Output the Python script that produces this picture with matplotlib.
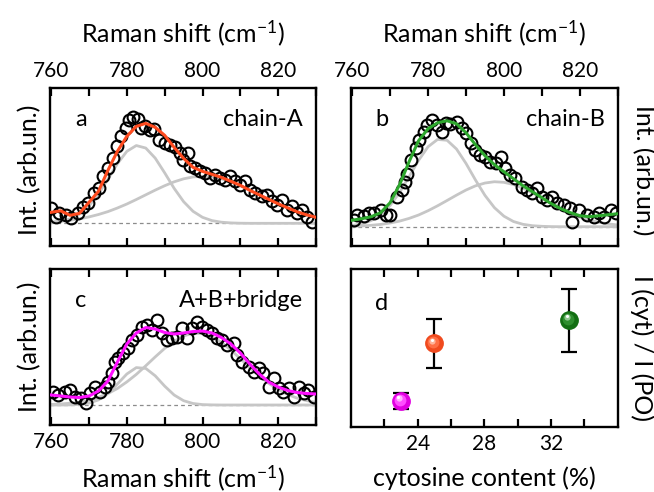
import matplotlib.pyplot as plt
import matplotlib.transforms as mtransforms
from matplotlib.ticker import MultipleLocator, FixedLocator
import numpy as np

plt.rcParams['font.family'] = ['Lato', 'DejaVu Sans']
plt.rcParams['mathtext.fontset'] = 'custom'
plt.rcParams['mathtext.rm'] = 'Lato'
plt.rcParams['mathtext.it'] = 'Lato'

# Raman shift grid for fit curves and components (cm-1)
shift = np.arange(760, 832.5, 2.5)

# panel a: chain-A
a_fit = [0.11, 0.125, 0.08, 0.10, 0.21, 0.32, 0.53, 0.72, 0.87, 0.97, 1.00, 0.96, 0.88, 0.76, 0.65,
         0.56, 0.52, 0.49, 0.46, 0.42, 0.38, 0.33, 0.285, 0.24, 0.195, 0.155, 0.115, 0.085, 0.06]
a_g1 = [0.007, 0.019, 0.044, 0.092, 0.174, 0.293, 0.442, 0.596, 0.720, 0.778, 0.753, 0.652, 0.505, 0.350,
        0.217, 0.120, 0.060, 0.027, 0.011, 0.004, 0.001, 0, 0, 0, 0, 0, 0, 0, 0]
a_g2 = [0.013, 0.021, 0.031, 0.045, 0.064, 0.088, 0.117, 0.153, 0.193, 0.238, 0.285, 0.332, 0.376, 0.415,
        0.445, 0.464, 0.47, 0.464, 0.445, 0.415, 0.376, 0.332, 0.285, 0.238, 0.193, 0.153, 0.117, 0.088, 0.064]
a_x = [759.9, 761.2, 762.1, 763.9, 765.2, 767.0, 768.3, 769.7, 771.4, 772.7, 773.6, 774.9, 776.3, 777.5,
       778.5, 779.8, 780.7, 781.6, 782.9, 783.8, 784.7, 786.0, 787.3, 788.6, 790.0, 791.3, 792.6, 794.0,
       794.9, 796.2, 796.7, 798.0, 799.3, 800.6, 802.0, 803.3, 804.6, 805.9, 807.3, 808.6, 809.9, 811.2,
       812.6, 813.9, 815.7, 817.0, 818.3, 819.7, 821.0, 822.3, 823.6, 825.0, 826.3, 827.6, 829.0]
a_y = [0.15, 0.066, 0.10, 0.085, 0.05, 0.10, 0.166, 0.20, 0.30, 0.35, 0.47, 0.55, 0.65, 0.77, 0.87, 0.95,
       1.03, 1.06, 1.04, 0.95, 0.97, 0.93, 0.94, 0.83, 0.80, 0.78, 0.76, 0.70, 0.63, 0.70, 0.57, 0.55, 0.52,
       0.50, 0.45, 0.48, 0.45, 0.43, 0.47, 0.42, 0.38, 0.42, 0.33, 0.30, 0.27, 0.28, 0.22, 0.18, 0.23, 0.13,
       0.17, 0.10, 0.13, 0.06, 0.01]

# panel b: chain-B
b_fit = [0.065, 0.08, 0.10, 0.14, 0.24, 0.42, 0.65, 0.86, 0.98, 1.04, 1.06, 1.03, 0.94, 0.82, 0.71,
         0.62, 0.55, 0.48, 0.41, 0.35, 0.29, 0.23, 0.18, 0.14, 0.11, 0.10, 0.11, 0.12, 0.13]
b_g1 = [0.012, 0.028, 0.061, 0.119, 0.212, 0.342, 0.501, 0.664, 0.800, 0.873, 0.865, 0.777, 0.633, 0.467,
        0.313, 0.190, 0.105, 0.052, 0.024, 0.010, 0.004, 0.001, 0, 0, 0, 0, 0, 0, 0]
b_g2 = [0.004, 0.008, 0.014, 0.023, 0.037, 0.056, 0.083, 0.117, 0.160, 0.209, 0.262, 0.316, 0.367, 0.409,
        0.437, 0.450, 0.444, 0.422, 0.385, 0.337, 0.284, 0.230, 0.178, 0.133, 0.096, 0.066, 0.044, 0.028, 0.017]
b_x = [760.4, 761.3, 763.1, 764.4, 765.7, 767.5, 768.8, 770.1, 771.8, 773.2, 774.0, 774.5, 775.4, 776.7,
       777.6, 778.9, 779.8, 781.1, 782.4, 783.7, 784.6, 785.9, 787.7, 789.0, 789.9, 791.2, 792.5, 793.8,
       795.1, 796.4, 797.8, 799.1, 800.4, 801.7, 803.0, 804.8, 806.1, 807.4, 808.7, 810.1, 811.4, 812.7,
       814.0, 815.8, 817.5, 818.0, 819.7, 821.9, 823.7, 825.0, 826.3, 828.1, 829.4]
b_y = [0.067, 0.117, 0.107, 0.133, 0.133, 0.167, 0.117, 0.117, 0.30, 0.367, 0.45, 0.53, 0.667, 0.783,
       0.867, 0.95, 1.017, 1.067, 1.017, 0.95, 1.033, 1.027, 1.05, 0.983, 0.933, 0.833, 0.767, 0.717, 0.70,
       0.65, 0.633, 0.70, 0.583, 0.517, 0.483, 0.40, 0.367, 0.333, 0.383, 0.30, 0.267, 0.30, 0.233, 0.217,
       0.183, 0.05, 0.167, 0.117, 0.10, 0.133, 0.10, 0.167, 0.133]

# panel c: A+B+bridge
c_fit = [0.10, 0.09, 0.08, 0.075, 0.09, 0.14, 0.24, 0.43, 0.61, 0.72, 0.775, 0.76, 0.725, 0.71, 0.72,
         0.735, 0.74, 0.72, 0.675, 0.61, 0.52, 0.41, 0.31, 0.23, 0.18, 0.145, 0.125, 0.115, 0.11]
c_g1 = [0, 0, 0.001, 0.006, 0.019, 0.051, 0.115, 0.210, 0.310, 0.374, 0.366, 0.292, 0.189, 0.100, 0.043,
        0.015, 0.004, 0.001, 0, 0, 0, 0, 0, 0, 0, 0, 0, 0, 0]
c_g2 = [0.005, 0.010, 0.018, 0.029, 0.048, 0.076, 0.114, 0.165, 0.231, 0.306, 0.392, 0.481, 0.566, 0.638,
        0.691, 0.718, 0.715, 0.683, 0.626, 0.550, 0.463, 0.375, 0.291, 0.216, 0.154, 0.105, 0.069, 0.044, 0.026]
c_x = [760.5, 761.9, 763.6, 765.0, 766.3, 768.0, 769.2, 770.2, 771.6, 772.9, 774.2, 775.1, 776.0, 776.9,
       777.7, 779.1, 780.4, 781.3, 782.6, 783.9, 785.2, 786.6, 787.9, 789.2, 790.5, 791.9, 793.2, 794.5,
       795.8, 797.2, 798.5, 799.8, 801.1, 802.5, 803.8, 805.1, 806.4, 808.2, 809.1, 810.4, 812.2, 813.5,
       814.8, 816.1, 817.5, 818.8, 820.1, 821.4, 822.8, 824.1, 825.4, 826.7, 828.0, 829.5]
c_y = [0.133, 0.10, 0.133, 0.15, 0.083, 0.067, 0.017, 0.117, 0.183, 0.133, 0.183, 0.233, 0.317, 0.433,
       0.467, 0.517, 0.567, 0.65, 0.70, 0.783, 0.80, 0.75, 0.85, 0.717, 0.65, 0.667, 0.683, 0.767, 0.667,
       0.767, 0.833, 0.777, 0.75, 0.717, 0.667, 0.65, 0.60, 0.617, 0.50, 0.433, 0.383, 0.333, 0.367, 0.317,
       0.183, 0.267, 0.167, 0.133, 0.167, 0.083, 0.183, 0.117, 0.15, 0.083]

# panel d: intensity ratio vs cytosine content
content = [23.0, 25.0, 33.1]
ratio = [0.166, 0.53, 0.677]
ratio_err = [0.05, 0.156, 0.20]
ball_colors = [('#e000e0', '#ff4dff', '#ffb0ff'),
               ('#f04a1e', '#ff6f45', '#ffb49a'),
               ('#136f13', '#2e8f2e', '#8fc88f')]

GRAY = '#c6c6c6'
TICK_FS = 15
LABEL_FS = 18
PANEL_FS = 17


def style_x(ax, top):
    ax.set_xlim(759.7, 830)
    ax.xaxis.set_major_locator(MultipleLocator(20))
    ax.xaxis.set_minor_locator(MultipleLocator(10))
    ax.tick_params(axis='x', which='both', direction='in', top=True, bottom=True,
                   length=6, width=1.6, labelsize=TICK_FS, pad=5,
                   labeltop=top, labelbottom=not top)
    ax.set_yticks([])
    for s in ax.spines.values():
        s.set_linewidth(1.7)


def spectrum(ax, sx, sy, fit, g1, g2, color, ylim, letter, name, top):
    ax.axhline(0, color='#8c8c8c', lw=0.9, ls=(0, (3, 2.5)), zorder=1)
    ax.plot(shift, g1, color=GRAY, lw=2, zorder=2)
    ax.plot(shift, g2, color=GRAY, lw=2, zorder=2)
    ax.plot(sx, sy, 'o', mfc='none', mec='black', ms=8.5, mew=1.5, zorder=3)
    ax.plot(shift, fit, color=color, lw=2.2, zorder=4)
    ax.set_ylim(*ylim)
    style_x(ax, top)
    ax.text(0.115, 0.80, letter, transform=ax.transAxes, fontsize=PANEL_FS, ha='center', va='center')
    ax.text(0.95, 0.80, name, transform=ax.transAxes, fontsize=PANEL_FS, ha='right', va='center')


fig = plt.figure(figsize=(6.54, 4.92), dpi=100)
ax_a = fig.add_axes([0.0765, 0.5, 0.4067, 0.321])
ax_b = fig.add_axes([0.5367, 0.5, 0.408, 0.321])
ax_c = fig.add_axes([0.0765, 0.1362, 0.4067, 0.317])
ax_d = fig.add_axes([0.5367, 0.1321, 0.408, 0.321])

spectrum(ax_a, a_x, a_y, a_fit, a_g1, a_g2, '#ff4b1f', (-0.227, 1.353), 'a', 'chain-A', True)
spectrum(ax_b, b_x, b_y, b_fit, b_g1, b_g2, '#2ea82e', (-0.193, 1.387), 'b', 'chain-B', True)
spectrum(ax_c, c_x, c_y, c_fit, c_g1, c_g2, '#ff10ff', (-0.20, 1.36), 'c', 'A+B+bridge', False)

xlab = 'Raman shift (cm$^{\\mathrm{-1}}$)'
ax_a.text(0.5, 1.35, xlab, transform=ax_a.transAxes, fontsize=LABEL_FS, ha='center', va='center')
ax_b.text(0.5, 1.35, xlab, transform=ax_b.transAxes, fontsize=LABEL_FS, ha='center', va='center')
ax_c.text(0.5, -0.34, xlab, transform=ax_c.transAxes, fontsize=LABEL_FS, ha='center', va='center')

ax_a.text(-0.075, 0.48, 'Int. (arb.un.)', transform=ax_a.transAxes, fontsize=LABEL_FS,
          rotation=90, ha='center', va='center')
ax_c.text(-0.075, 0.5, 'Int. (arb.un.)', transform=ax_c.transAxes, fontsize=LABEL_FS,
          rotation=90, ha='center', va='center')
ax_b.text(1.094, 0.48, 'Int. (arb.un.)', transform=ax_b.transAxes, fontsize=LABEL_FS,
          rotation=270, ha='center', va='center')

# panel d
ax_d.errorbar(content, ratio, yerr=ratio_err, fmt='none', ecolor='black',
              elinewidth=1.6, capsize=5.5, capthick=1.6, zorder=2)
for x, y, (c0, c1, c2) in zip(content, ratio, ball_colors):
    ax_d.plot(x, y, 'o', ms=12.5, color=c0, mec=c0, zorder=3)
    t1 = mtransforms.offset_copy(ax_d.transData, fig=fig, x=-0.8, y=0.9, units='points')
    ax_d.plot(x, y, 'o', ms=8.5, color=c1, mec='none', transform=t1, zorder=4)
    t2 = mtransforms.offset_copy(ax_d.transData, fig=fig, x=-1.6, y=2.0, units='points')
    ax_d.plot(x, y, 'o', ms=4.5, color=c2, mec='none', transform=t2, zorder=5)
    t3 = mtransforms.offset_copy(ax_d.transData, fig=fig, x=-2.0, y=2.6, units='points')
    ax_d.plot(x, y, 'o', ms=2.2, color='white', mec='none', transform=t3, zorder=6)

ax_d.set_xlim(20, 36)
ax_d.set_ylim(0, 1)
ax_d.xaxis.set_major_locator(FixedLocator([24, 28, 32]))
ax_d.xaxis.set_minor_locator(FixedLocator([22, 26, 30, 34]))
ax_d.tick_params(axis='x', which='both', direction='in', top=True, bottom=True,
                 length=6, width=1.6, labelsize=TICK_FS, pad=5)
ax_d.set_yticks([])
for s in ax_d.spines.values():
    s.set_linewidth(1.7)
ax_d.text(0.115, 0.78, 'd', transform=ax_d.transAxes, fontsize=PANEL_FS, ha='center', va='center')
ax_d.text(0.5, -0.323, 'cytosine content (%)', transform=ax_d.transAxes, fontsize=LABEL_FS,
          ha='center', va='center')
ax_d.text(1.089, 0.5, 'I (cyt) / I (PO)', transform=ax_d.transAxes, fontsize=LABEL_FS,
          rotation=270, ha='center', va='center')

fig.savefig('out.png', dpi=100)
